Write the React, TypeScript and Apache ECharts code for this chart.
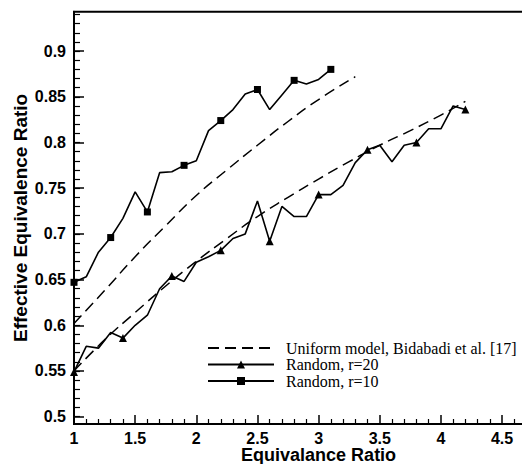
import React, { useEffect, useRef } from "react";
import * as echarts from "echarts";

// ---- data ----
const xR10 = [1.0, 1.1, 1.2, 1.3, 1.4, 1.5, 1.6, 1.7, 1.8, 1.9, 2.0, 2.1, 2.2, 2.3, 2.4, 2.5, 2.6, 2.7, 2.8, 2.9, 3.0, 3.1];
const yR10 = [0.647, 0.653, 0.680, 0.696, 0.717, 0.746, 0.724, 0.767, 0.768, 0.775, 0.780, 0.813, 0.824, 0.836, 0.853, 0.858, 0.836, 0.852, 0.868, 0.864, 0.869, 0.880];

const xR20 = [1.0, 1.1, 1.2, 1.3, 1.4, 1.5, 1.6, 1.7, 1.8, 1.9, 2.0, 2.1, 2.2, 2.3, 2.4, 2.5, 2.6, 2.7, 2.8, 2.9, 3.0, 3.1, 3.2, 3.3, 3.4, 3.5, 3.6, 3.7, 3.8, 3.9, 4.0, 4.1, 4.2];
const yR20 = [0.549, 0.577, 0.575, 0.592, 0.586, 0.600, 0.611, 0.640, 0.654, 0.648, 0.669, 0.675, 0.682, 0.695, 0.700, 0.736, 0.692, 0.730, 0.719, 0.719, 0.743, 0.743, 0.753, 0.778, 0.792, 0.797, 0.779, 0.797, 0.800, 0.815, 0.815, 0.840, 0.836];

const xUniformUpper = [1.0, 1.25, 1.5, 1.75, 2.0, 2.25, 2.5, 2.75, 3.0, 3.3];
const yUniformUpper = [0.602, 0.638, 0.675, 0.709, 0.742, 0.770, 0.797, 0.823, 0.847, 0.872];

const xUniformLower = [1.0, 1.25, 1.5, 1.75, 2.0, 2.25, 2.5, 2.75, 3.0, 3.25, 3.5, 3.75, 4.0, 4.2];
const yUniformLower = [0.550, 0.584, 0.614, 0.643, 0.670, 0.695, 0.719, 0.740, 0.760, 0.779, 0.797, 0.813, 0.830, 0.845];

const xTickLabels = [1, 1.5, 2, 2.5, 3, 3.5, 4, 4.5];
const yTickLabels = [0.5, 0.55, 0.6, 0.65, 0.7, 0.75, 0.8, 0.85, 0.9];

const NAME_UNIFORM = "Uniform model, Bidabadi et al. [17]";
const NAME_R20 = "Random, r=20";
const NAME_R10 = "Random, r=10";

const X_MIN = 1;
const X_MAX = 5;
const Y_MIN = 0.492;
const Y_MAX = 0.943;

const yMinorTicks: number[] = [];
for (let k = 50; k <= 94; k++) yMinorTicks.push(k / 100);

const pairs = (xs: number[], ys: number[]) => xs.map((x, i) => [x, ys[i]]);
const withMarkers = (xs: number[], ys: number[], every: number) =>
  xs.map((x, i) => (i % every === 0 ? [x, ys[i]] : { value: [x, ys[i]], symbol: "none" }));

const SANS = "'Liberation Sans', Arial, sans-serif";
const SERIF = "'Liberation Serif', 'Times New Roman', serif";

export default function App() {
  const ref = useRef<HTMLDivElement>(null);

  useEffect(() => {
    if (!ref.current) return;
    const chart = echarts.init(ref.current, null, { renderer: "svg" });
    const dashed = { color: "#000", width: 1.5, type: [11, 6] as number[] };
    const labelStyle = { fontFamily: SANS, fontWeight: "bold" as const, fontSize: 16, color: "#000" };
    const nameStyle = { fontFamily: SANS, fontWeight: "bold" as const, fontSize: 19, color: "#000" };

    chart.setOption({
      animation: false,
      backgroundColor: "#fff",
      color: ["#000"],
      grid: {
        left: 74,
        top: 11.8,
        width: 489.2,
        height: 412.2,
        show: true,
        borderColor: "#000",
        borderWidth: 2,
        containLabel: false,
        outerBoundsMode: "none",
      },
      legend: {
        orient: "vertical",
        left: 207,
        top: 340,
        width: 315,
        padding: 0,
        itemWidth: 66,
        itemHeight: 10,
        itemGap: 0.5,
        selectedMode: false,
        data: [
          { name: NAME_UNIFORM, itemStyle: { color: "rgba(0,0,0,0)", borderColor: "rgba(0,0,0,0)", borderWidth: 0 } },
          NAME_R20,
          NAME_R10,
        ],
        textStyle: {
          fontFamily: SERIF,
          fontSize: 16,
          color: "#000",
          lineHeight: 16,
          overflow: "none",
          padding: [0, 0, 0, 7],
        },
      },
      xAxis: {
        type: "value",
        min: X_MIN,
        max: X_MAX,
        interval: 0.5,
        name: "Equivalance Ratio",
        nameLocation: "middle",
        nameGap: 22,
        nameMoveOverlap: false,
        nameTextStyle: { ...nameStyle, fontSize: 18 },
        axisLine: { show: true, onZero: false, lineStyle: { color: "#000", width: 2 } },
        axisTick: { show: true, inside: true, length: 9, lineStyle: { color: "#000", width: 1.5 } },
        minorTick: { show: true, splitNumber: 5, length: 5, lineStyle: { color: "#000", width: 1.2 } },
        splitLine: { show: false },
        minorSplitLine: { show: false },
        axisLabel: {
          ...labelStyle,
          margin: 6,
          formatter: (v: number) => (xTickLabels.indexOf(v) >= 0 ? String(v) : ""),
        },
      },
      yAxis: [
        {
          type: "value",
          min: Y_MIN,
          max: Y_MAX,
          position: "left",
          name: "Effective Equivalence Ratio",
          nameLocation: "middle",
          nameGap: 44,
          nameMoveOverlap: false,
          nameTextStyle: nameStyle,
          axisLine: { show: true, onZero: false, lineStyle: { color: "#000", width: 2 } },
          axisTick: {
            show: true,
            inside: true,
            length: 10,
            customValues: yTickLabels,
            lineStyle: { color: "#000", width: 1.5 },
          },
          axisLabel: { ...labelStyle, margin: 8, customValues: yTickLabels, formatter: (v: number) => String(v) },
          splitLine: { show: false },
        },
        {
          type: "value",
          min: Y_MIN,
          max: Y_MAX,
          position: "left",
          offset: 0,
          axisLine: { show: true, onZero: false, lineStyle: { color: "rgba(0,0,0,0)" } },
          axisTick: {
            show: true,
            inside: true,
            length: 6,
            customValues: yMinorTicks,
            lineStyle: { color: "#000", width: 1.2 },
          },
          axisLabel: { show: false },
          splitLine: { show: false },
        },
      ],
      series: [
        {
          name: NAME_UNIFORM,
          type: "line",
          smooth: true,
          symbol: "none",
          data: pairs(xUniformUpper, yUniformUpper),
          lineStyle: dashed,
          itemStyle: { color: "#000" },
        },
        {
          name: NAME_UNIFORM,
          type: "line",
          smooth: true,
          symbol: "none",
          data: pairs(xUniformLower, yUniformLower),
          lineStyle: dashed,
          itemStyle: { color: "#000" },
        },
        {
          name: NAME_R20,
          type: "line",
          symbol: "triangle",
          symbolSize: 8,
          data: withMarkers(xR20, yR20, 4),
          lineStyle: { color: "#000", width: 1.6 },
          itemStyle: { color: "#000" },
        },
        {
          name: NAME_R10,
          type: "line",
          symbol: "rect",
          symbolSize: 7,
          data: withMarkers(xR10, yR10, 3),
          lineStyle: { color: "#000", width: 1.6 },
          itemStyle: { color: "#000" },
        },
      ],
    });
    return () => chart.dispose();
  }, []);

  return (
    <div
      ref={ref}
      style={{ position: "fixed", left: 0, top: 0, width: 522, height: 464, background: "#fff" }}
    />
  );
}
